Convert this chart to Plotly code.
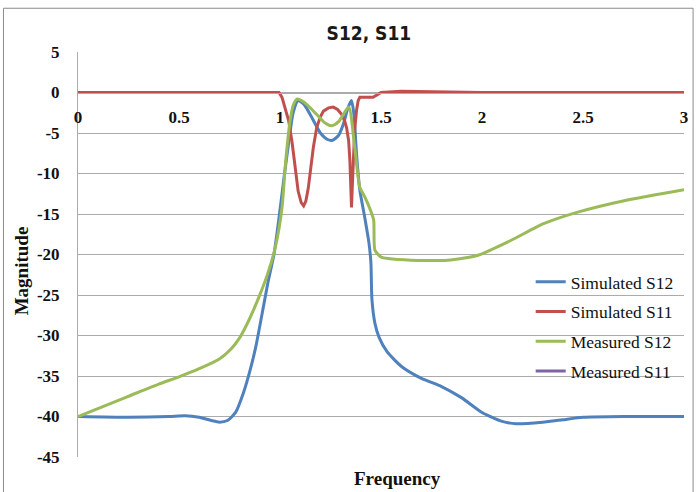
import plotly.graph_objects as go

# ---- data ----
sim_s12_f = [0, 0.25, 0.45, 0.53, 0.6, 0.66, 0.70, 0.74, 0.78, 0.82, 0.855, 0.88, 0.91, 0.94, 0.97,
             0.995, 1.02, 1.045, 1.065, 1.09, 1.12, 1.16, 1.2, 1.235, 1.26, 1.29, 1.315, 1.335, 1.354,
             1.365, 1.38, 1.395, 1.42, 1.44, 1.45, 1.455, 1.47, 1.49, 1.53, 1.6, 1.7, 1.8, 1.9, 2.0,
             2.1, 2.17, 2.3, 2.4, 2.5, 2.7, 3.0]
sim_s12_v = [-40, -40.1, -40.0, -39.9, -40.1, -40.5, -40.7, -40.5, -39.5, -37, -34, -31.4, -27.5, -23.5, -20,
             -15.5, -10.5, -5.8, -2.5, -1.0, -1.5, -3.2, -5.0, -5.8, -5.9, -5.3, -3.8, -2.0, -1.0,
             -2.5, -8, -12, -15.5, -18.5, -21, -25.5, -28.5, -30.2, -32, -33.8, -35.3, -36.3, -37.7, -39.5,
             -40.6, -40.9, -40.7, -40.4, -40.1, -40.0, -40.0]

sim_s11_f = [0, 0.5, 0.995, 1.01, 1.025, 1.043, 1.06, 1.075, 1.09, 1.105, 1.117, 1.128, 1.14, 1.152,
             1.165, 1.182, 1.2, 1.215, 1.24, 1.264, 1.285, 1.305, 1.32, 1.33, 1.34, 1.346, 1.351, 1.354,
             1.358, 1.362, 1.37, 1.379, 1.387, 1.395, 1.43, 1.46, 1.48, 1.5, 1.6, 1.8, 2.0, 2.5, 3.0]
sim_s11_v = [0, 0, 0, -0.6, -1.8, -3.5, -6.2, -9.6, -12.2, -13.6, -14, -13.4, -11.8, -9.4,
             -6.8, -4.3, -3.0, -2.3, -1.9, -1.8, -2.1, -2.7, -3.5, -4.4, -6.0, -8.4, -11.8, -14.2,
             -11.5, -8.4, -4.5, -2.2, -1.0, -0.6, -0.6, -0.6, -0.3, 0, 0.15, 0.1, 0, 0, 0]

meas_s12_f = [0, 0.24, 0.4, 0.5, 0.6, 0.7, 0.76, 0.8, 0.85, 0.895, 0.94, 0.977, 1.01, 1.027, 1.05, 1.065,
              1.085, 1.12, 1.17, 1.22, 1.256, 1.29, 1.34, 1.37, 1.395, 1.42, 1.452, 1.464, 1.47, 1.5,
              1.535, 1.65, 1.83, 1.98, 2.14, 2.305, 2.47, 2.715, 3.0]
meas_s12_v = [-40, -37.6, -36, -35.1, -34.1, -32.9, -31.6, -30.3, -27.9, -25.3, -22.3, -19.1, -14.2, -8.8, -3.5, -1.6,
              -0.8, -1.2, -2.4, -3.7, -4.1, -3.6, -1.8, -6.8, -11.7, -12.9, -14.8, -15.8, -19.5, -20.3,
              -20.5, -20.7, -20.7, -20.1, -18.3, -16.2, -14.8, -13.3, -12.0]

meas_s11_f = [None]
meas_s11_v = [None]

series_names = ["Simulated S12", "Simulated S11", "Measured S12", "Measured S11"]
series_colors = ["#4F81BD", "#C0504D", "#9BBB59", "#8064A2"]
series_shapes = ["spline", "linear", "spline", "linear"]

x_ticks = [0, 0.5, 1, 1.5, 2, 2.5, 3]
x_tick_text = ["0", "0.5", "1", "1.5", "2", "2.5", "3"]
y_ticks = [5, 0, -5, -10, -15, -20, -25, -30, -35, -40, -45]
y_tick_text = ["5", "0", "-5", "-10", "-15", "-20", "-25", "-30", "-35", "-40", "-45"]

# ---- figure ----
fig = go.Figure()
data = [(sim_s12_f, sim_s12_v), (sim_s11_f, sim_s11_v), (meas_s12_f, meas_s12_v), (meas_s11_f, meas_s11_v)]
for (fx, vy), name, col, shp in zip(data, series_names, series_colors, series_shapes):
    line = dict(color=col, width=3, shape=shp)
    if shp == "spline":
        line["smoothing"] = 0.6
    fig.add_trace(go.Scatter(x=fx, y=vy, mode="lines", name=name, legendgroup=name,
                             line=line, showlegend=True, hoverinfo="skip"))

serif = "Liberation Serif, Times New Roman, serif"
grid = "#ababab"

fig.update_layout(
    width=700, height=492,
    margin=dict(l=78, r=12, t=52, b=35),
    paper_bgcolor="white", plot_bgcolor="white",
    title=dict(text="S12, S11", x=0.527, xanchor="center", y=0.933, yanchor="middle",
               font=dict(family="Liberation Sans Narrow, DejaVu Sans Condensed, Arial Narrow, sans-serif",
                         size=19, color="#1a1a1a", weight="bold")),
    showlegend=True,
    legend=dict(x=0.747, y=0.477, xanchor="left", yanchor="top", bgcolor="rgba(0,0,0,0)",
                font=dict(family=serif, size=17.5, color="#111"), tracegroupgap=4,
                traceorder="grouped", itemwidth=30),
    xaxis=dict(range=[0, 3], tickvals=x_ticks, ticktext=x_tick_text, anchor="free", position=0.9,
               showline=True, linecolor=grid, linewidth=1, showgrid=False, zeroline=False,
               ticks="", ticklabelstandoff=9,
               tickfont=dict(family=serif, size=17, color="#111", weight="bold")),
    yaxis=dict(range=[-45, 5], tickvals=y_ticks, ticktext=y_tick_text, showline=True, linecolor=grid,
               linewidth=1, showgrid=True, gridcolor=grid, gridwidth=1, zeroline=False, ticks="",
               ticklabelstandoff=14,
               tickfont=dict(family=serif, size=17, color="#111", weight="bold")),
    annotations=[
        dict(text="Frequency", xref="paper", yref="paper", x=0.528, y=-0.052, xanchor="center",
             yanchor="middle", showarrow=False,
             font=dict(family=serif, size=19, color="#111", weight="bold")),
        dict(text="Magnitude", xref="paper", yref="paper", x=-0.093, y=0.46, xanchor="center",
             yanchor="middle", textangle=-90, showarrow=False,
             font=dict(family=serif, size=19, color="#111", weight="bold")),
    ],
    shapes=[
        dict(type="rect", xref="paper", yref="paper", x0=-0.123, x1=1.015, y0=-0.09, y1=1.108,
             line=dict(color="#8a8a8a", width=1), fillcolor="rgba(0,0,0,0)", layer="below"),
    ],
)

fig.write_html("out.html", config={"displayModeBar": False},
               post_script="document.body.style.margin='0px';")
